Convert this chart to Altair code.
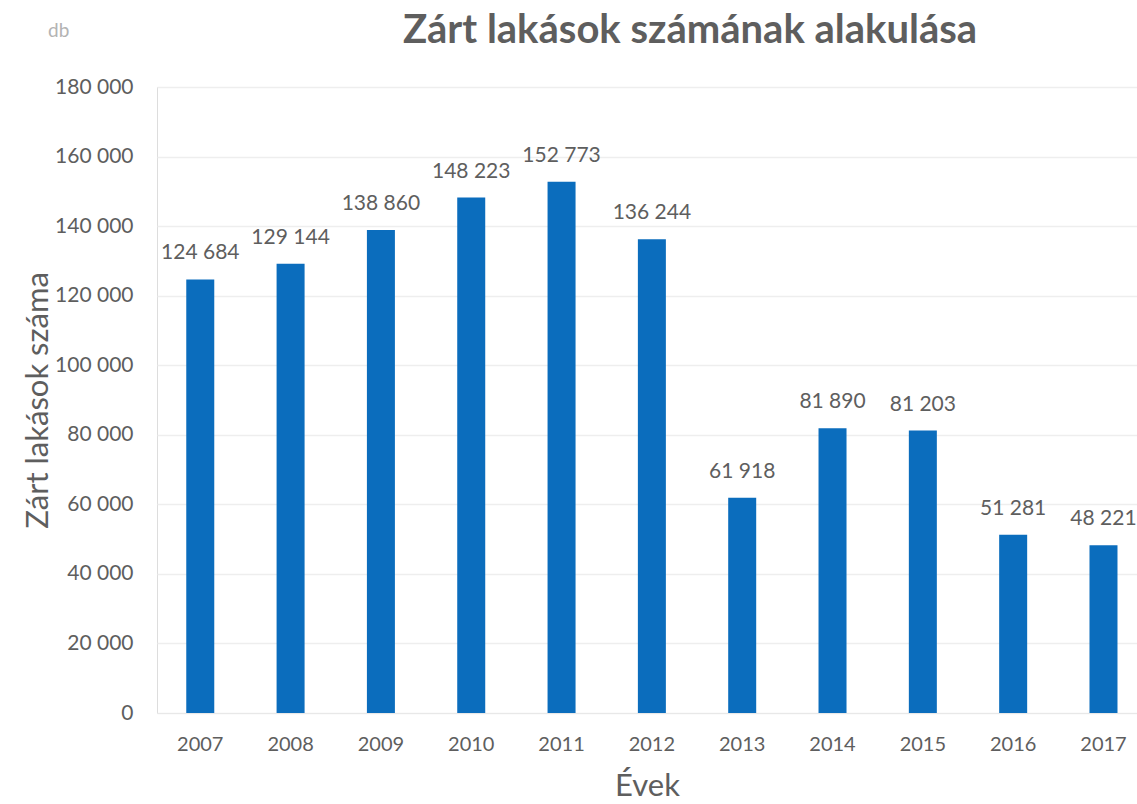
import altair as alt
import pandas as pd

years = ["2007", "2008", "2009", "2010", "2011", "2012", "2013", "2014", "2015", "2016", "2017"]
values = [124684, 129144, 138860, 148223, 152773, 136244, 61918, 81890, 81203, 51281, 48221]
y_ticks = [0, 20000, 40000, 60000, 80000, 100000, 120000, 140000, 160000, 180000]

df = pd.DataFrame({
    "year": years,
    "value": values,
    "label": [f"{v:,}".replace(",", " ") for v in values],
})

FONT = "Lato"
TEXT = "#5e5e5e"
BAR = "#0B6DBD"

x_enc = alt.X(
    "year:N",
    sort=years,
    scale=alt.Scale(paddingInner=0.69, paddingOuter=0.27, align=0.6),
    axis=alt.Axis(
        title="Évek",
        titleFont=FONT,
        titleFontSize=31,
        titleFontWeight="normal",
        titleColor=TEXT,
        titleY=82,
        titleBaseline="alphabetic",
        titleX=490,
        labelFont=FONT,
        labelFontSize=20,
        labelColor=TEXT,
        labelAngle=0,
        labelPadding=21,
        ticks=False,
        domainColor="#e8e8e8",
        domainWidth=1,
    ),
)

y_enc = alt.Y(
    "value:Q",
    scale=alt.Scale(domain=[0, 180000], nice=False),
    axis=alt.Axis(
        title="Zárt lakások száma",
        titleFont=FONT,
        titleFontSize=31,
        titleFontWeight="normal",
        titleColor=TEXT,
        titleX=-110,
        titleY=313,
        titleBaseline="alphabetic",
        titleAngle=-90,
        values=y_ticks,
        labelExpr="replace(format(datum.value, ','), ',', ' ')",
        labelFont=FONT,
        labelFontSize=21,
        labelColor=TEXT,
        labelPadding=24,
        ticks=False,
        domain=False,
        gridColor="#eeeeee",
        gridWidth=1.5,
    ),
)

base = alt.Chart(df)

bars = base.mark_bar(color=BAR).encode(x=x_enc, y=y_enc)

labels = base.mark_text(
    font=FONT, fontSize=21, color=TEXT, baseline="alphabetic", dy=-20
).encode(x=alt.X("year:N", sort=years), y="value:Q", text="label:N")

annot = pd.DataFrame({
    "t": ["db", "Zárt lakások számának alakulása"],
})

db = alt.Chart(annot.iloc[[0]]).mark_text(
    font=FONT, fontSize=19, color="#b3b3b3", align="left", baseline="alphabetic"
).encode(text="t:N", x=alt.value(-109), y=alt.value(-50))

title = alt.Chart(annot.iloc[[1]]).mark_text(
    font=FONT, fontSize=40, fontWeight="bold", color=TEXT, align="center", baseline="alphabetic"
).encode(text="t:N", x=alt.value(533), y=alt.value(-44))

chart = alt.layer(bars, labels, db, title).properties(
    width=980,
    height=626,
    autosize=alt.AutoSizeParams(type="none"),
    padding={"left": 157, "top": 87, "right": 0, "bottom": 91},
).configure_view(stroke=None).configure(background="white")

chart.save("out.html", embed_options={"renderer": "svg", "actions": False})
